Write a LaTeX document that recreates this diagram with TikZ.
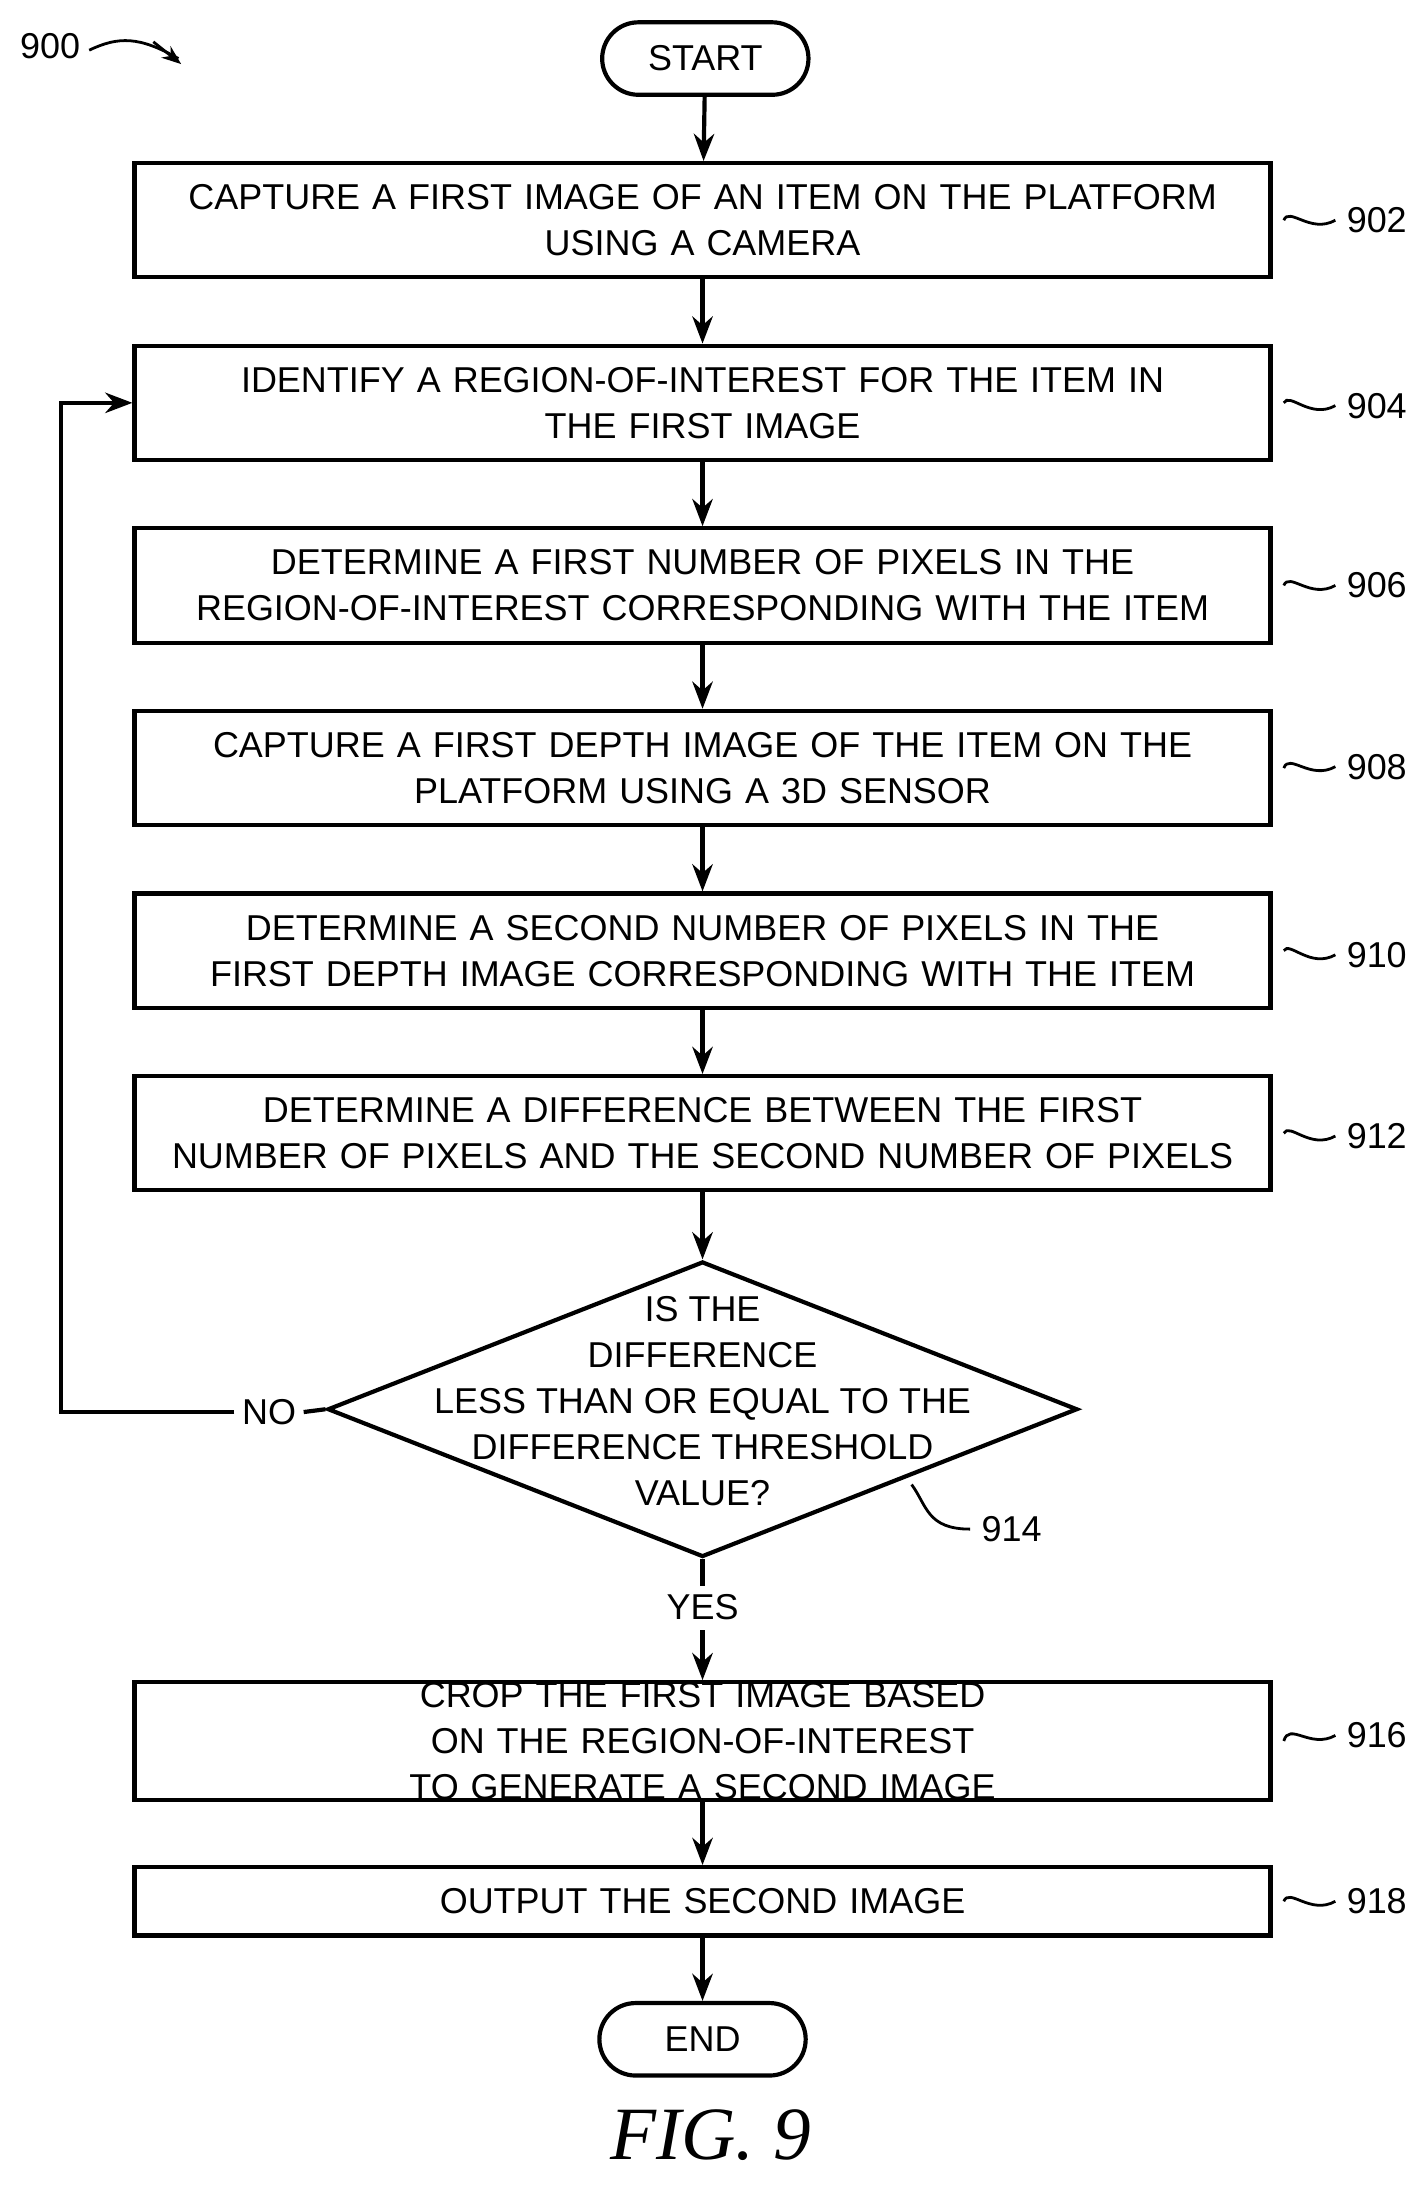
\documentclass[tikz,border=0pt]{standalone}
\usepackage{fontspec}
\setmainfont{Liberation Sans}
\newfontfamily\figfont{Liberation Serif}
\usetikzlibrary{positioning, arrows.meta, shapes.geometric}
\begin{document}
\begin{tikzpicture}[x=0.5pt, y=-0.5pt, >=Stealth, line width=1.5pt,
  stepbox/.style={draw, rectangle, align=center, text width=400pt, minimum width=407.5pt, minimum height=41pt, inner sep=0pt, font=\fontsize{12.9}{16.5}\selectfont},
  term/.style={draw, rounded corners=13pt, minimum width=74pt, minimum height=26pt, inner sep=0pt, font=\fontsize{12.9}{16.5}\selectfont},
  ref/.style={font=\fontsize{12.9}{16.5}\selectfont, anchor=west},
  txt/.style={font=\fontsize{12.9}{16.5}\selectfont}]
\useasboundingbox (0,0) rectangle (1024,1574);

% terminals
\node[term] (start) at (506,42) {START};
\node[term] (end) at (504,1463) {END};

% process steps
\node[stepbox] (s902) at (504,158) {CAPTURE A FIRST IMAGE OF AN ITEM ON THE PLATFORM\\USING A CAMERA};
\node[stepbox] (s904) at (504,289) {IDENTIFY A REGION-OF-INTEREST FOR THE ITEM IN\\THE FIRST IMAGE};
\node[stepbox] (s906) at (504,420) {DETERMINE A FIRST NUMBER OF PIXELS IN THE\\REGION-OF-INTEREST CORRESPONDING WITH THE ITEM};
\node[stepbox] (s908) at (504,551) {CAPTURE A FIRST DEPTH IMAGE OF THE ITEM ON THE\\PLATFORM USING A 3D SENSOR};
\node[stepbox] (s910) at (504,682) {DETERMINE A SECOND NUMBER OF PIXELS IN THE\\FIRST DEPTH IMAGE CORRESPONDING WITH THE ITEM};
\node[stepbox] (s912) at (504,813) {DETERMINE A DIFFERENCE BETWEEN THE FIRST\\NUMBER OF PIXELS AND THE SECOND NUMBER OF PIXELS};
\node[draw, diamond, minimum width=269pt, minimum height=106pt, inner sep=0pt] (s914) at (504,1011) {};
\node[txt, align=center] at (504,1005) {IS THE\\DIFFERENCE\\LESS THAN OR EQUAL TO THE\\DIFFERENCE THRESHOLD\\VALUE?};
\node[stepbox] (s916) at (504,1249) {CROP THE FIRST IMAGE BASED ON THE REGION-OF-INTEREST\\TO GENERATE A SECOND IMAGE};
\node[stepbox, minimum height=24.5pt] (s918) at (504,1364) {OUTPUT THE SECOND IMAGE};

% arrows
\draw[->] (start) -- (s902);
\draw[->] (s902) -- (s904);
\draw[->] (s904) -- (s906);
\draw[->] (s906) -- (s908);
\draw[->] (s908) -- (s910);
\draw[->] (s910) -- (s912);
\draw[->] (s912) -- (s914);
\draw[->] (s914.south) -- node[txt, fill=white, pos=0.4] {YES} (s916);
\draw[->] (s916) -- (s918);
\draw[->] (s918) -- (end);
\node[txt, fill=white, inner sep=2pt] (no) at (193,1013) {NO};
\draw (s914.west) -- (no.east);
\coordinate (loop) at (44,1013);
\draw[->] (no.west) -- (loop) |- (s904.west);

% reference numbers
\foreach \n/\y in {902/158, 904/291, 906/420, 908/550, 910/685, 912/815, 916/1245, 918/1364} {
  \node[ref] (r\n) at (958,\y) {\n};
  \draw[line width=1pt] (s\n.east) ++(4pt,0) .. controls (925,\y-10) and (940,\y+10) .. (r\n.west);
}
\node[ref] (r914) at (696,1097) {914};
\draw[line width=1pt] (654,1065) .. controls (665,1080) and (665,1097) .. (r914.west);
\node[txt] (r900) at (36,33) {900};
\draw[line width=1pt] (64,36) .. controls (85,26) and (100,26) .. (128,42);
\draw[line width=1pt, ->, >={Stealth[length=7pt]}] (110,30) -- (130,46);

\node[font=\figfont\itshape\fontsize{27}{30}\selectfont] (fig) at (510,1532) {FIG. 9};
\end{tikzpicture}
\end{document}
